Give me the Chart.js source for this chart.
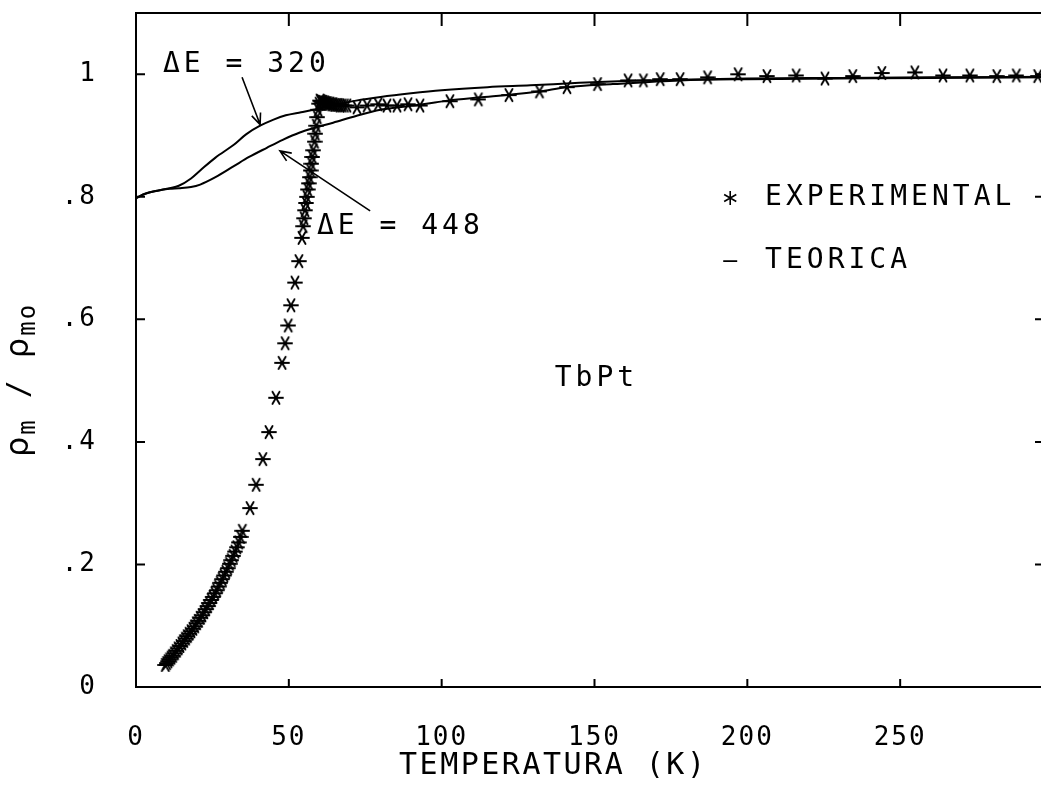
<!DOCTYPE html>
<html>
<head>
<meta charset="utf-8">
<script src="https://cdn.jsdelivr.net/npm/chart.js@4.4.1/dist/chart.umd.min.js"></script>
<style>
  html, body { margin: 0; padding: 0; background: #fff; overflow: hidden; }
  #wrap { position: relative; width: 1070px; height: 787px; }
</style>
</head>
<body>
<div id="wrap"><canvas id="chart"></canvas></div>
<script>
// axis ticks
const xTicks = [0, 50, 100, 150, 200, 250, 300];
const yTicks = [0, 0.2, 0.4, 0.6, 0.8, 1];

// experimental points (T in K, rho_m / rho_mo)
const expT = [9.6, 10.0, 10.5, 11.0, 11.5, 12.0, 12.6, 13.2, 13.8, 14.4, 15.0, 15.6, 16.2, 16.8, 17.4, 18.0,
  18.6, 19.2, 19.8, 20.4, 21.0, 21.6, 22.2, 22.8, 23.4, 24.0, 24.6, 25.2, 25.8, 26.4, 27.0, 27.6, 28.2, 28.8,
  29.4, 30.0, 30.6, 31.2, 31.8, 32.4, 33.0, 33.6, 34.2, 34.8,
  37.3, 39.3, 41.5, 43.5, 45.8, 47.8, 48.8, 49.8, 50.7, 52.0, 53.3,
  54.3, 54.7, 55.0, 55.3, 55.6, 55.9, 56.2, 56.5, 56.8, 57.1, 57.4, 57.7, 58.0, 58.4, 58.7, 59.0, 59.3, 59.6, 59.9,
  60.2, 60.5, 60.8, 61.1, 61.4, 61.8, 62.2, 62.6, 63.0, 63.5, 64.0, 64.5, 65.0, 65.6, 66.2, 66.8, 67.5, 68.2, 69.0,
  72.3, 75.6, 79.2, 82.1, 85.4, 89.0, 92.9, 102.7, 112, 122, 132, 141, 151, 161, 166,
  171.5, 178, 187, 197, 206.4, 216, 225.4, 234.5, 244, 254.8, 264, 272.8, 281.6, 288, 295];
const expRho = [.036, .039, .042, .045, .048, .051, .055, .059, .063, .067, .071, .075, .079, .083, .087, .091,
  .095, .099, .104, .108, .113, .117, .122, .127, .132, .137, .142, .147, .153, .158, .164, .170, .176, .182,
  .188, .194, .201, .207, .214, .221, .228, .236, .245, .255,
  .292, .330, .372, .416, .472, .529, .561, .590, .623, .660, .695,
  .733, .752, .765, .778, .790, .800, .812, .822, .832, .843, .854, .865, .876, .890, .903, .916, .930, .942, .952,
  .957, .956, .955, .955, .954, .954, .953, .953, .952, .952, .951, .951, .950, .950, .950, .949, .949, .949, .949,
  .946, .949, .951, .949, .949, .951, .949, .956, .959, .966, .972, .979, .984, .990, .990,
  .992, .992, .995, 1.0, .997, .998, .993, .997, 1.002, 1.003, .998, .998, .997, .998, .997];

// theoretical curve, deltaE = 320
const t320 = [0, 3, 7, 11, 14, 18, 21, 26, 32, 36, 40.6, 45, 49, 54, 58, 65, 72, 80, 90, 100, 115, 129, 145, 160, 178, 200, 230, 260, 300];
const rho320 = [0.798, 0.805, 0.81, 0.814, 0.818, 0.83, 0.843, 0.864, 0.885, 0.902, 0.916, 0.926, 0.933, 0.938, 0.942,
  0.95, 0.957, 0.963, 0.969, 0.974, 0.979, 0.982, 0.986, 0.989, 0.991, 0.993, 0.994, 0.995, 0.996];

// theoretical curve, deltaE = 448
const t448 = [0, 3, 7, 11, 14, 18, 21, 26, 32, 37, 42.8, 48, 53.6, 58, 64.5, 72, 80, 86, 95, 102, 112, 123, 132, 141, 156, 178, 200, 230, 260, 300];
const rho448 = [0.798, 0.805, 0.81, 0.813, 0.814, 0.816, 0.82, 0.832, 0.85, 0.865, 0.88, 0.893, 0.905, 0.912, 0.921,
  0.932, 0.942, 0.946, 0.952, 0.957, 0.962, 0.967, 0.972, 0.979, 0.984, 0.99, 0.992, 0.993, 0.994, 0.995];

const toPoints = (xs, ys) => xs.map((v, i) => ({x: v, y: ys[i]}));

const MONO = '"DejaVu Sans Mono", monospace';

// six-armed plotter asterisk used as point style
const starImg = document.createElement('canvas');
starImg.width = 16;
starImg.height = 16;
(function () {
  const c = starImg.getContext('2d');
  c.strokeStyle = '#000';
  c.lineWidth = 1.9;
  c.lineCap = 'round';
  c.beginPath();
  for (let k = 0; k < 3; k++) {
    const an = k * Math.PI / 3;
    c.moveTo(8 + 7 * Math.cos(an), 8 + 7 * Math.sin(an));
    c.lineTo(8 - 7 * Math.cos(an), 8 - 7 * Math.sin(an));
  }
  c.stroke();
})();

function drawArrow(ctx, x1, y1, x2, y2) {
  const ang = Math.atan2(y2 - y1, x2 - x1);
  const len = 12;
  ctx.beginPath();
  ctx.moveTo(x1, y1);
  ctx.lineTo(x2, y2);
  ctx.moveTo(x2 - len * Math.cos(ang - 0.4), y2 - len * Math.sin(ang - 0.4));
  ctx.lineTo(x2, y2);
  ctx.lineTo(x2 - len * Math.cos(ang + 0.4), y2 - len * Math.sin(ang + 0.4));
  ctx.stroke();
}

const framePlugin = {
  id: 'frame',
  beforeDraw(chart) {
    chart.ctx.letterSpacing = '2px';
  },
  afterDraw(chart) {
    const {ctx, chartArea: a, scales: {x, y}} = chart;
    ctx.save();
    ctx.strokeStyle = '#000';
    ctx.fillStyle = '#000';
    ctx.lineWidth = 2;
    ctx.strokeRect(a.left, a.top, a.right - a.left, a.bottom - a.top);

    // inward tick marks on all four sides
    ctx.beginPath();
    xTicks.slice(1, -1).forEach(v => {
      const px = x.getPixelForValue(v);
      ctx.moveTo(px, a.bottom); ctx.lineTo(px, a.bottom - 8);
      ctx.moveTo(px, a.top); ctx.lineTo(px, a.top + 13);
    });
    yTicks.slice(1).forEach(v => {
      const py = y.getPixelForValue(v);
      ctx.moveTo(a.left, py); ctx.lineTo(a.left + 9, py);
      ctx.moveTo(a.right, py); ctx.lineTo(a.right - 18, py);
    });
    ctx.stroke();

    // arrows
    ctx.lineWidth = 1.6;
    drawArrow(ctx, x.getPixelForValue(34.7), y.getPixelForValue(0.995), x.getPixelForValue(40.6), y.getPixelForValue(0.918));
    drawArrow(ctx, x.getPixelForValue(76.6), y.getPixelForValue(0.777), x.getPixelForValue(47.1), y.getPixelForValue(0.875));

    // annotation and legend texts
    ctx.textBaseline = 'middle';
    ctx.textAlign = 'left';
    ctx.font = '28px ' + MONO;
    ctx.letterSpacing = '4px';
    ctx.fillText('\u0394E = 320', x.getPixelForValue(8.8), y.getPixelForValue(1.015));
    ctx.fillText('\u0394E = 448', x.getPixelForValue(59.2), y.getPixelForValue(0.752));
    ctx.fillText('EXPERIMENTAL', x.getPixelForValue(205.8), y.getPixelForValue(0.798));
    ctx.fillText('TEORICA', x.getPixelForValue(205.8), y.getPixelForValue(0.695));
    ctx.fillText('TbPt', x.getPixelForValue(137), y.getPixelForValue(0.503));

    // legend symbols
    const sx = x.getPixelForValue(194.4);
    const sy = y.getPixelForValue(0.798);
    ctx.lineWidth = 1.6;
    ctx.beginPath();
    for (let k = 0; k < 3; k++) {
      const an = Math.PI / 2 + k * Math.PI / 3;
      ctx.moveTo(sx + 7 * Math.cos(an), sy + 7 * Math.sin(an));
      ctx.lineTo(sx - 7 * Math.cos(an), sy - 7 * Math.sin(an));
    }
    const ly = y.getPixelForValue(0.695);
    ctx.moveTo(sx - 7, ly); ctx.lineTo(sx + 7, ly);
    ctx.stroke();

    // x axis title
    ctx.textAlign = 'center';
    ctx.font = '30px ' + MONO;
    ctx.letterSpacing = '2.5px';
    ctx.fillText('TEMPERATURA (K)', x.getPixelForValue(136.5), 766);

    // y axis title with subscripts
    ctx.translate(24, 380);
    ctx.rotate(-Math.PI / 2);
    ctx.letterSpacing = '2px';
    ctx.textAlign = 'left';
    ctx.textBaseline = 'alphabetic';
    const parts = [
      ['\u03c1', '32px "DejaVu Sans"', 0],
      ['m', '24px ' + MONO, 7],
      [' / ', '30px ' + MONO, 0],
      ['\u03c1', '32px "DejaVu Sans"', 0],
      ['mo', '24px ' + MONO, 7]
    ];
    let total = 0;
    parts.forEach(p => { ctx.font = p[1]; total += ctx.measureText(p[0]).width; });
    let cx = -total / 2;
    parts.forEach(p => {
      ctx.font = p[1];
      ctx.fillText(p[0], cx, 4 + p[2]);
      cx += ctx.measureText(p[0]).width;
    });
    ctx.restore();
  }
};

new Chart(document.getElementById('chart'), {
  type: 'scatter',
  data: {
    datasets: [
      {
        label: 'EXPERIMENTAL',
        data: toPoints(expT, expRho),
        pointStyle: starImg,
        pointRadius: 8,
        borderColor: '#000',
        backgroundColor: '#000'
      },
      {
        label: 'TEORICA \u0394E = 320',
        data: toPoints(t320, rho320),
        showLine: true,
        pointRadius: 0,
        borderColor: '#000',
        borderWidth: 2,
        cubicInterpolationMode: 'monotone'
      },
      {
        label: 'TEORICA \u0394E = 448',
        data: toPoints(t448, rho448),
        showLine: true,
        pointRadius: 0,
        borderColor: '#000',
        borderWidth: 2,
        cubicInterpolationMode: 'monotone'
      }
    ]
  },
  options: {
    responsive: true,
    maintainAspectRatio: false,
    animation: false,
    layout: {padding: {left: 0, top: 13, right: 17, bottom: 0}},
    plugins: {
      legend: {display: false},
      tooltip: {enabled: false}
    },
    scales: {
      x: {
        type: 'linear',
        min: 0,
        max: 300,
        afterBuildTicks: s => { s.ticks = xTicks.map(v => ({value: v})); },
        afterFit: s => { s.height = 100; s.paddingLeft = 0; s.paddingRight = 0; },
        grid: {display: false},
        border: {display: false},
        ticks: {
          color: '#000',
          padding: 28,
          maxRotation: 0,
          autoSkip: false,
          font: {family: 'DejaVu Sans Mono', size: 26},
          callback: v => (v === 300 ? '' : String(v))
        }
      },
      y: {
        type: 'linear',
        min: 0,
        max: 1.1,
        afterBuildTicks: s => { s.ticks = yTicks.map(v => ({value: v})); },
        afterFit: s => { s.width = 136; s.paddingTop = 0; s.paddingBottom = 0; },
        grid: {display: false},
        border: {display: false},
        ticks: {
          color: '#000',
          padding: 31,
          autoSkip: false,
          font: {family: 'DejaVu Sans Mono', size: 26},
          callback: v => (v === 0 ? '0' : v === 1 ? '1' : String(Math.round(v * 10) / 10).replace('0.', '.'))
        }
      }
    }
  },
  plugins: [framePlugin]
});
</script>
</body>
</html>
